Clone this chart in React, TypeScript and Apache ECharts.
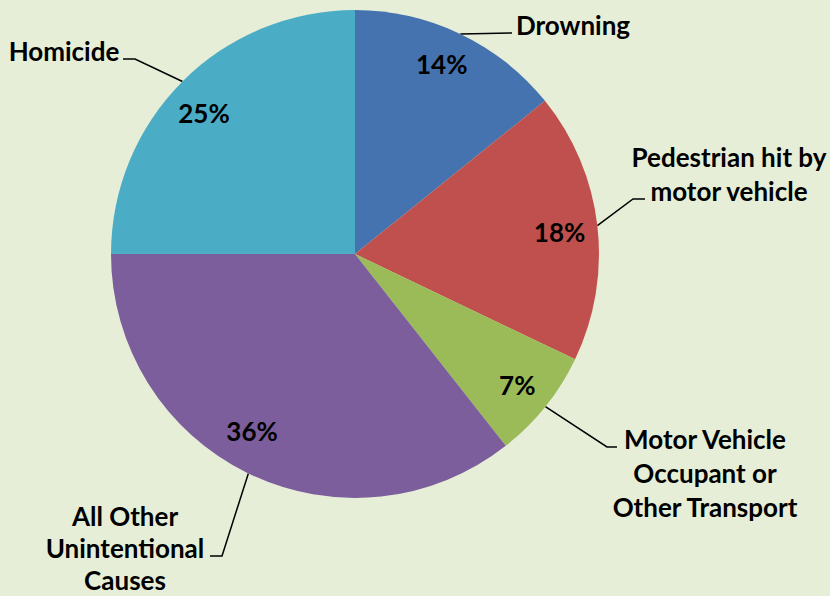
import React, { useEffect, useRef } from 'react';
import * as echarts from 'echarts';

// ---- data ----
const categories = [
  'Drowning',
  'Pedestrian hit by\nmotor vehicle',
  'Motor Vehicle\nOccupant or\nOther Transport',
  'All Other\nUnintentional\nCauses',
  'Homicide',
];
const shares = [14.2, 17.9, 7.3, 35.6, 25.0];
const sliceColors = ['#4573AF', '#C0504D', '#9BBB59', '#7B5E9B', '#4BACC6'];

// ---- layout (positions of the outside labels and leader bends) ----
const CX = 355;
const CY = 254;
const R = 244;
const labelCentres = [[573, 25], [729, 174], [705, 473], [125, 548], [64, 51]];
const labelLineHeights = [34, 34, 34, 32, 34];
const leaderElbows = [null, [633, 199], [607, 447], [222, 556], [135, 59]];
const leaderEnds = [[512, 33], [645, 199], [617, 447], [210, 556], [123, 59]];
const innerNudges = [[-3, -2], [-2, 2], [0, 1], [-12, -10], [-4, 6]];

const FONT = 'Lato, "Open Sans", "DejaVu Sans", sans-serif';

function sliceAnchor(i: number): number[] {
  const total = shares.reduce((a, b) => a + b, 0);
  let before = 0;
  for (let k = 0; k < i; k++) before += shares[k];
  const mid = ((before + shares[i] / 2) / total) * Math.PI * 2;
  return [CX + R * Math.sin(mid), CY - R * Math.cos(mid)];
}

export default function App() {
  const ref = useRef<HTMLDivElement>(null);
  useEffect(() => {
    if (!ref.current) return;
    const chart = echarts.init(ref.current, undefined, { renderer: 'svg' });
    const data = categories.map((name, i) => ({
      name,
      value: shares[i],
      itemStyle: { color: sliceColors[i] },
      label: { lineHeight: labelLineHeights[i] },
    }));
    chart.setOption({
      animation: false,
      backgroundColor: '#E6EED8',
      series: [
        {
          type: 'pie',
          center: [CX, CY],
          radius: [0, R],
          startAngle: 90,
          clockwise: true,
          avoidLabelOverlap: false,
          silent: true,
          itemStyle: { borderWidth: 0 },
          data,
          label: {
            show: true,
            position: 'outside',
            formatter: '{b}',
            color: '#000',
            fontFamily: FONT,
            fontWeight: 700,
            fontSize: 26,
            lineHeight: 34,
            align: 'center',
          },
          labelLine: {
            show: true,
            length: 10,
            length2: 10,
            lineStyle: { color: '#000', width: 1.5 },
          },
          labelLayout: (params: any) => {
            const i = params.dataIndex;
            const start =
              params.labelLinePoints && params.labelLinePoints[0]
                ? params.labelLinePoints[0]
                : sliceAnchor(i);
            const end = leaderEnds[i];
            const elbow = leaderElbows[i] || [(start[0] + end[0]) / 2, (start[1] + end[1]) / 2];
            return {
              x: labelCentres[i][0],
              y: labelCentres[i][1],
              align: 'center',
              verticalAlign: 'middle',
              labelLinePoints: [start, elbow, end],
            };
          },
        },
        {
          type: 'pie',
          center: [CX, CY],
          radius: [R * 0.68, R],
          startAngle: 90,
          clockwise: true,
          avoidLabelOverlap: false,
          silent: true,
          itemStyle: { color: 'rgba(0,0,0,0)', borderWidth: 0 },
          data: categories.map((name, i) => ({ name, value: shares[i] })),
          label: {
            show: true,
            position: 'inside',
            formatter: (p: any) => Math.round(p.percent) + '%',
            color: '#000',
            fontFamily: FONT,
            fontWeight: 700,
            fontSize: 26,
          },
          labelLayout: (params: any) => ({
            dx: innerNudges[params.dataIndex][0],
            dy: innerNudges[params.dataIndex][1],
          }),
          labelLine: { show: false },
        },
      ],
    });
    return () => chart.dispose();
  }, []);
  return (
    <div
      ref={ref}
      style={{ position: 'absolute', left: 0, top: 0, width: 830, height: 596 }}
    />
  );
}
